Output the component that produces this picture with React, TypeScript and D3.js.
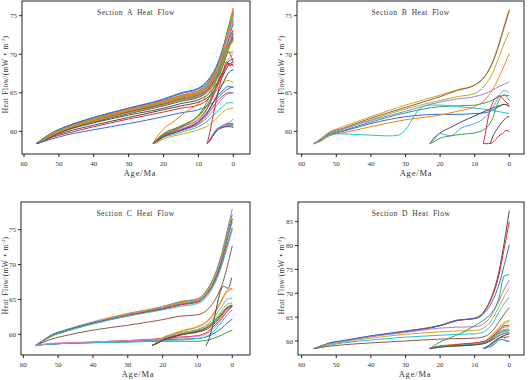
import React from "react";
import * as d3 from "d3";

// ---------- shared age grids (Ma) ----------
const ageLong = [56.5, 55, 52, 48, 40, 30, 20, 15, 10, 7, 5, 3, 1.5, 0];
const ageMid = [23, 22, 20, 17, 14, 10, 7, 5, 3, 1.5, 0];
const ageShort = [7.5, 7, 6, 5, 4, 3, 2, 1, 0];
const xTickValues = [60, 50, 40, 30, 20, 10, 0];
const yTicksABC = [60, 65, 70, 75];
const yTicksD = [60, 65, 70, 75, 80, 85];
const titles = ["Section A Heat Flow", "Section B Heat Flow", "Section C Heat Flow", "Section D Heat Flow"];

// ---------- colours ----------
const BLUE = "#2a6fdb", ORANGE = "#fb7d14", GREEN = "#35a838", RED = "#e6262a", PURPLE = "#a97ae0",
  BROWN = "#8c5a45", PINK = "#e47cc6", GRAY = "#4a4a4a", OLIVE = "#a9b323", CYAN = "#1fc3d3",
  GOLD = "#d9a21c", TEAL = "#2fa06c", LBLUE = "#5aa3e3";

// ---------- Section A ----------
const aLong = [
  [58.4, 58.9, 59.8, 60.6, 61.8, 63.0, 64.1, 64.9, 65.5, 66.6, 68.1, 70.4, 72.8, 75.1],
  [58.4, 58.8, 59.7, 60.5, 61.7, 62.9, 64.0, 64.7, 65.3, 66.5, 68.0, 70.5, 73.1, 75.6],
  [58.4, 58.8, 59.7, 60.5, 61.6, 62.8, 63.9, 64.6, 65.2, 66.4, 68.0, 70.6, 73.4, 76.0],
  [58.4, 58.8, 59.6, 60.4, 61.5, 62.7, 63.8, 64.5, 65.0, 66.0, 67.4, 69.5, 71.6, 73.2],
  [58.4, 58.8, 59.6, 60.4, 61.5, 62.6, 63.7, 64.4, 64.9, 65.9, 67.3, 69.6, 72.0, 74.3],
  [58.4, 58.7, 59.6, 60.3, 61.4, 62.6, 63.6, 64.3, 64.8, 65.8, 67.2, 69.4, 71.8, 74.0],
  [58.4, 58.7, 59.6, 60.3, 61.4, 62.5, 63.6, 64.2, 64.8, 65.8, 67.2, 69.5, 72.0, 74.5],
  [58.4, 58.7, 59.5, 60.2, 61.2, 62.3, 63.3, 63.9, 64.4, 65.3, 66.6, 68.5, 70.5, 72.3],
  [58.4, 58.8, 59.6, 60.4, 61.5, 62.7, 63.8, 64.5, 65.1, 66.2, 67.8, 70.2, 72.8, 75.3],
  [58.4, 58.8, 59.6, 60.4, 61.5, 62.6, 63.7, 64.4, 65.0, 66.1, 67.6, 70.0, 72.5, 74.8],
  [58.4, 58.9, 59.8, 60.6, 61.8, 63.0, 64.2, 65.0, 65.6, 66.8, 68.3, 70.8, 73.2, 75.4],
  [58.4, 58.8, 59.7, 60.4, 61.6, 62.8, 63.9, 64.6, 65.2, 66.3, 67.9, 70.3, 73.0, 75.8],
  [58.4, 58.7, 59.5, 60.3, 61.4, 62.5, 63.5, 64.2, 64.7, 65.6, 66.9, 68.9, 70.8, 71.9],
  [58.4, 58.7, 59.5, 60.3, 61.3, 62.5, 63.5, 64.1, 64.6, 65.6, 66.9, 68.8, 70.3, 69.0],
  [58.4, 58.7, 59.5, 60.3, 61.3, 62.4, 63.4, 64.1, 64.6, 65.5, 66.8, 68.8, 71.0, 73.0],
  [58.4, 58.7, 59.5, 60.2, 61.3, 62.4, 63.4, 64.0, 64.5, 65.5, 66.8, 68.7, 70.8, 72.7],
  [58.4, 58.7, 59.4, 60.1, 61.1, 62.1, 63.0, 63.6, 64.1, 64.9, 66.0, 67.6, 69.0, 69.4],
  [58.4, 58.8, 59.6, 60.4, 61.5, 62.7, 63.8, 64.4, 65.0, 66.1, 67.8, 70.2, 73.0, 75.2],
  [58.4, 58.7, 59.5, 60.3, 61.3, 62.4, 63.4, 64.0, 64.5, 65.4, 66.7, 68.7, 70.7, 71.8],
  [58.4, 58.6, 59.3, 59.9, 60.8, 61.8, 62.8, 63.3, 63.8, 64.5, 65.6, 67.2, 68.5, 69.0],
  [58.4, 58.6, 59.2, 59.7, 60.6, 61.6, 62.5, 63.0, 63.4, 64.3, 65.6, 67.4, 68.8, 68.6],
  [58.4, 58.6, 59.0, 59.5, 60.2, 61.0, 61.9, 62.4, 62.8, 63.4, 64.1, 65.0, 65.5, 65.8],
];
const aLongColors = [BLUE, ORANGE, GREEN, RED, PURPLE, BROWN, PINK, GRAY, OLIVE, CYAN, BLUE, ORANGE,
  GREEN, RED, PURPLE, BROWN, GRAY, ORANGE, OLIVE, GRAY, RED, BLUE];
const aMid = [
  [58.4, 59.2, 60.3, 61.3, 62.4, 63.6, 65.0, 66.8, 69.0, 70.8, 71.6],
  [58.4, 58.9, 59.6, 60.2, 60.8, 61.9, 63.6, 65.2, 66.2, 66.6, 66.3],
  [58.4, 58.9, 59.7, 60.3, 60.9, 62.0, 63.8, 65.8, 68.5, 70.2, 70.3],
  [58.4, 58.8, 59.4, 59.9, 60.4, 61.3, 62.8, 64.3, 65.3, 65.8, 65.7],
  [58.4, 58.8, 59.4, 59.9, 60.3, 61.0, 62.4, 63.7, 64.6, 65.0, 65.0],
  [58.4, 58.6, 59.2, 59.6, 60.0, 60.6, 61.5, 62.4, 63.2, 63.7, 63.7],
  [58.4, 58.5, 59.0, 59.4, 59.7, 60.2, 60.8, 61.6, 62.5, 62.9, 63.0],
  [58.4, 58.8, 59.5, 60.0, 60.5, 61.4, 63.3, 65.3, 67.5, 69.3, 70.0],
  [58.4, 58.7, 59.3, 59.8, 60.2, 60.9, 62.0, 63.2, 64.3, 64.9, 65.0],
  [58.4, 58.7, 59.3, 59.8, 60.3, 61.2, 62.7, 64.4, 66.2, 67.5, 68.0],
  [58.4, 58.8, 59.5, 60.1, 60.7, 61.6, 63.4, 65.6, 67.8, 68.8, 68.5],
  [58.4, 58.9, 59.7, 60.3, 60.9, 62.1, 64.3, 66.5, 69.5, 71.2, 72.0],
];
const aMidColors = [ORANGE, OLIVE, GREEN, BLUE, BROWN, CYAN, GOLD, PINK, PURPLE, GRAY, RED, GREEN];
const aShort = [
  [58.4, 59.3, 61.5, 63.8, 65.8, 67.5, 69.0, 68.5, 68.8],
  [58.4, 58.7, 59.5, 60.2, 60.5, 60.8, 61.0, 61.2, 61.6],
  [58.4, 58.7, 59.4, 60.1, 60.5, 60.7, 60.9, 61.0, 61.0],
  [58.4, 58.6, 59.3, 60.0, 60.4, 60.5, 60.6, 60.6, 60.5],
  [58.4, 58.6, 59.3, 59.9, 60.3, 60.5, 60.7, 60.8, 60.7],
  [58.4, 58.7, 59.5, 60.1, 60.4, 60.7, 60.8, 60.9, 60.9],
];
const aShortColors = [RED, PURPLE, BLUE, GRAY, RED, LBLUE];

// ---------- Section B ----------
const bLong = [
  [58.4, 58.9, 59.9, 60.6, 61.9, 63.4, 64.7, 65.4, 66.0, 67.1, 68.7, 71.2, 73.4, 75.6],
  [58.4, 58.8, 59.8, 60.4, 61.7, 63.1, 64.5, 65.3, 66.0, 67.2, 68.8, 71.3, 73.6, 75.8],
  [58.4, 58.8, 59.7, 60.3, 61.5, 62.9, 64.0, 64.5, 64.9, 66.0, 67.4, 69.6, 71.4, 72.9],
  [58.4, 58.8, 59.7, 60.3, 61.4, 62.6, 63.8, 64.2, 64.5, 64.9, 65.3, 65.8, 66.1, 66.4],
  [58.4, 58.7, 59.6, 60.1, 61.2, 62.4, 63.2, 63.3, 63.4, 63.7, 64.0, 64.5, 64.7, 64.6],
  [58.4, 58.7, 59.5, 60.0, 61.0, 61.9, 62.2, 62.2, 62.3, 62.4, 62.7, 63.2, 63.5, 63.3],
  [58.4, 58.6, 59.4, 59.8, 60.6, 61.5, 62.1, 62.6, 63.2, 64.1, 65.3, 67.0, 68.5, 70.1],
];
const bLongColors = [GOLD, BROWN, OLIVE, PURPLE, TEAL, BLUE, ORANGE];
const bCyanAges = [56.5, 55, 52, 50, 45, 40, 35, 32, 30, 28, 26, 23, 20, 15, 10, 5, 0];
const bCyanValues = [58.4, 58.8, 59.5, 59.7, 59.6, 59.5, 59.4, 59.5, 60.2, 61.6, 62.9, 63.4, 63.4, 63.2, 63.0, 62.7, 62.3];
const bMid = [
  [58.4, 59.0, 59.8, 60.5, 61.2, 62.0, 62.6, 63.0, 63.3, 63.5, 63.2],
  [58.4, 58.8, 59.7, 59.4, 60.4, 61.0, 61.8, 62.9, 64.5, 65.3, 65.0],
  [58.4, 58.6, 59.1, 59.4, 59.6, 59.8, 60.3, 61.5, 64.0, 64.7, 64.0],
];
const bMidColors = [GRAY, LBLUE, GREEN];
const bShort = [
  [58.4, 59.5, 62.0, 63.5, 64.3, 64.6, 64.3, 63.8, 63.5],
  [58.4, 58.4, 58.4, 58.5, 58.9, 59.4, 59.7, 60.1, 60.0],
];
const bShortColors = [RED, RED];
const bGrayAges = [5.5, 4.5, 3.5, 2.5, 1.5, 0.5, 0];
const bGrayValues = [58.4, 59.6, 60.3, 61.0, 61.5, 61.9, 61.9];

// ---------- Section C ----------
const cLong = [
  [58.4, 58.9, 59.9, 60.6, 61.8, 63.0, 64.0, 64.7, 65.1, 66.6, 68.6, 71.7, 74.8, 78.0],
  [58.4, 58.9, 59.9, 60.6, 61.7, 62.9, 63.9, 64.6, 65.0, 66.5, 68.4, 71.4, 74.4, 77.2],
  [58.4, 58.9, 59.8, 60.5, 61.7, 62.9, 63.9, 64.5, 64.9, 66.3, 68.2, 71.1, 74.0, 76.5],
  [58.4, 58.9, 59.8, 60.5, 61.6, 62.8, 63.8, 64.4, 64.8, 66.2, 68.0, 70.9, 73.7, 76.1],
  [58.4, 58.8, 59.8, 60.5, 61.6, 62.7, 63.7, 64.3, 64.7, 66.0, 67.8, 70.6, 73.5, 76.6],
  [58.4, 58.8, 59.7, 60.4, 61.5, 62.7, 63.6, 64.2, 64.6, 65.9, 67.6, 70.2, 72.8, 75.3],
  [58.4, 58.8, 59.7, 60.4, 61.5, 62.6, 63.5, 64.0, 64.4, 65.6, 67.3, 69.9, 72.4, 75.0],
  [58.4, 58.7, 59.3, 59.8, 60.6, 61.3, 62.1, 62.6, 62.8, 63.6, 64.9, 67.0, 69.6, 72.7],
  [58.4, 58.5, 58.6, 58.7, 58.9, 59.1, 59.4, 59.6, 59.8, 60.4, 61.3, 62.4, 63.3, 64.1],
  [58.4, 58.5, 58.6, 58.7, 58.8, 58.9, 59.0, 59.0, 59.0, 59.2, 59.5, 59.9, 60.3, 60.6],
  [58.4, 58.5, 58.6, 58.7, 58.8, 59.0, 59.2, 59.3, 59.4, 59.7, 60.2, 60.9, 61.6, 62.2],
  [58.4, 58.5, 58.6, 58.7, 58.8, 58.9, 59.1, 59.2, 59.4, 59.8, 60.6, 61.8, 62.8, 63.5],
  [58.4, 58.5, 58.7, 58.8, 58.9, 59.1, 59.3, 59.5, 59.7, 60.2, 61.0, 62.2, 63.2, 63.9],
];
const cLongColors = [PURPLE, GREEN, GOLD, ORANGE, BLUE, RED, CYAN, BROWN, RED, GREEN, BLUE, CYAN, PINK];
const cMid = [
  [58.4, 58.8, 59.5, 60.1, 60.6, 61.1, 62.0, 63.3, 65.0, 66.3, 66.6],
  [58.4, 58.7, 59.4, 60.0, 60.5, 61.0, 61.9, 63.1, 64.8, 66.1, 66.4],
  [58.4, 58.7, 59.4, 59.9, 60.3, 60.7, 61.5, 62.6, 64.0, 65.0, 65.2],
  [58.4, 58.7, 59.3, 59.8, 60.2, 60.6, 61.3, 62.2, 63.4, 64.3, 64.5],
  [58.4, 58.6, 59.2, 59.7, 60.1, 60.5, 61.1, 62.0, 63.1, 63.9, 64.2],
  [58.4, 58.6, 59.2, 59.7, 60.0, 60.3, 60.8, 61.6, 62.7, 63.6, 64.0],
  [58.4, 58.6, 59.1, 59.6, 60.0, 60.4, 61.0, 61.8, 62.9, 63.8, 64.1],
];
const cMidColors = [ORANGE, GOLD, LBLUE, OLIVE, GREEN, RED, GRAY];
const cBlackAges = [7.6, 6.5, 5.5, 4.5, 3.5, 2.6, 1.2, 0.2];
const cBlackValues = [58.3, 59.6, 61.6, 63.9, 66.0, 66.9, 66.6, 68.1];

// ---------- Section D ----------
const dLong = [
  [58.4, 58.8, 59.5, 60.0, 61.0, 62.0, 63.2, 64.3, 64.8, 66.5, 69.5, 74.5, 80.5, 87.3],
  [58.4, 58.8, 59.5, 60.0, 61.0, 62.0, 63.2, 64.3, 64.7, 66.4, 69.2, 73.8, 79.3, 85.0],
  [58.4, 58.8, 59.6, 60.1, 61.1, 62.1, 63.3, 64.4, 64.7, 66.0, 68.2, 71.8, 75.8, 80.2],
  [58.4, 58.7, 59.4, 59.9, 60.9, 61.8, 62.7, 62.9, 63.0, 63.8, 65.6, 68.4, 70.8, 72.8],
  [58.4, 58.7, 59.3, 59.8, 60.6, 61.4, 61.9, 62.1, 62.2, 62.9, 64.5, 67.2, 69.3, 71.0],
  [58.4, 58.6, 59.1, 59.6, 60.2, 60.8, 61.2, 61.4, 61.5, 62.1, 63.5, 66.0, 67.8, 69.2],
  [58.4, 58.6, 58.9, 59.2, 59.6, 60.0, 60.4, 60.5, 60.6, 61.0, 62.0, 64.0, 65.6, 67.0],
];
const dLongColors = [GRAY, RED, BLUE, PURPLE, GOLD, CYAN, BROWN];
const dMid = [
  [58.4, 58.9, 59.8, 60.7, 61.6, 63.2, 64.6, 66.0, 69.0, 73.6, 73.9],
  [58.4, 58.7, 59.0, 59.2, 59.4, 59.6, 60.0, 60.8, 62.0, 62.9, 63.0],
  [58.4, 58.6, 58.9, 59.1, 59.2, 59.5, 60.0, 61.3, 62.8, 63.9, 64.3],
  [58.4, 58.6, 58.9, 59.1, 59.3, 59.5, 60.0, 61.0, 62.5, 63.6, 64.0],
  [58.4, 58.6, 58.9, 59.1, 59.3, 59.6, 60.0, 60.9, 62.2, 63.2, 63.3],
  [58.4, 58.6, 58.8, 59.0, 59.1, 59.4, 59.8, 60.6, 61.8, 62.4, 62.5],
  [58.4, 58.6, 58.8, 59.0, 59.1, 59.3, 59.7, 60.5, 61.7, 62.2, 62.3],
  [58.4, 58.6, 58.8, 58.9, 59.0, 59.2, 59.6, 60.4, 61.5, 62.0, 62.1],
  [58.4, 58.5, 58.7, 58.9, 59.0, 59.2, 59.5, 60.2, 61.1, 61.6, 61.7],
];
const dMidColors = [TEAL, ORANGE, OLIVE, GOLD, RED, PURPLE, CYAN, GREEN, GRAY];
const dShort = [
  [58.4, 58.5, 58.7, 59.0, 59.5, 60.2, 60.3, 60.0, 59.9],
  [58.4, 58.6, 59.0, 59.6, 60.2, 60.6, 60.8, 60.8, 60.9],
  [58.4, 58.5, 58.8, 59.2, 59.8, 60.5, 61.0, 60.2, 60.0],
  [58.4, 58.6, 59.0, 59.5, 60.0, 60.6, 61.0, 61.3, 61.5],
];
const dShortColors = [BLUE, RED, LBLUE, GRAY];

type Series = { ages: number[]; values: number[]; color: string };
const group = (ages: number[], rows: number[][], colors: string[]): Series[] =>
  rows.map((values, i) => ({ ages, values, color: colors[i] }));

const seriesA: Series[] = [
  ...group(ageLong, aLong, aLongColors),
  ...group(ageMid, aMid, aMidColors),
  ...group(ageShort, aShort, aShortColors),
];
const seriesB: Series[] = [
  ...group(ageLong, bLong, bLongColors),
  { ages: bCyanAges, values: bCyanValues, color: CYAN },
  ...group(ageMid, bMid, bMidColors),
  ...group(ageShort, bShort, bShortColors),
  { ages: bGrayAges, values: bGrayValues, color: GRAY },
];
const seriesC: Series[] = [
  ...group(ageLong, cLong, cLongColors),
  ...group(ageMid, cMid, cMidColors),
  { ages: cBlackAges, values: cBlackValues, color: GRAY },
];
const seriesD: Series[] = [
  ...group(ageLong, dLong, dLongColors),
  ...group(ageMid, dMid, dMidColors),
  ...group(ageShort, dShort, dShortColors),
];

type Layout = {
  l: number; r: number; t: number; b: number;
  x60: number; x0: number;
  yLoV: number; yLoPx: number; yHiV: number; yHiPx: number;
  yLabelX: number; xLabelX: number;
};

const FONT = "'Liberation Serif', 'Times New Roman', serif";
const TXT = "#333";

function Panel({ layout, series, yTicks, title, id }: { layout: Layout; series: Series[]; yTicks: number[]; title: string; id: string }) {
  const { l, r, t, b } = layout;
  const x = d3.scaleLinear().domain([60, 0]).range([layout.x60, layout.x0]);
  const y = d3.scaleLinear().domain([layout.yLoV, layout.yHiV]).range([layout.yLoPx, layout.yHiPx]);
  const line = d3
    .line<[number, number]>()
    .x((d) => x(d[0]))
    .y((d) => y(d[1]))
    .curve(d3.curveMonotoneX);
  const cy = (t + b) / 2 - 3;
  return (
    <g>
      <defs>
        <clipPath id={id}>
          <rect x={l} y={t} width={r - l} height={b - t} />
        </clipPath>
      </defs>
      <g clipPath={`url(#${id})`} fill="none" strokeWidth={1} strokeLinejoin="round">
        {series.map((s, i) => (
          <path key={i} d={line(s.ages.map((a, j) => [a, s.values[j]] as [number, number])) || ""} stroke={s.color} />
        ))}
      </g>
      <rect x={l} y={t} width={r - l} height={b - t} fill="none" stroke="#222" strokeWidth={1} />
      {xTickValues.map((v) => (
        <g key={"x" + v}>
          <line x1={x(v)} x2={x(v)} y1={b} y2={b + 3} stroke="#222" />
          <text x={x(v)} y={b + 12} fontSize={7} textAnchor="middle" fill={TXT} fontFamily={FONT}>
            {v}
          </text>
        </g>
      ))}
      {yTicks.map((v) => (
        <g key={"y" + v}>
          <line x1={l - 3} x2={l} y1={y(v)} y2={y(v)} stroke="#222" />
          <text x={l - 5} y={y(v) + 2.5} fontSize={7} textAnchor="end" fill={TXT} fontFamily={FONT}>
            {v}
          </text>
        </g>
      ))}
      <text x={(l + r) / 2} y={t + 14} fontSize={7.5} textAnchor="middle" fill={TXT} fontFamily={FONT}
        letterSpacing={0.5} wordSpacing={2}>
        {title}
      </text>
      <text x={layout.xLabelX} y={b + 22} fontSize={8.5} textAnchor="middle" fill={TXT} fontFamily={FONT} letterSpacing={0.8}>
        Age/Ma
      </text>
      <text transform={`translate(${layout.yLabelX},${cy}) rotate(-90)`} fontSize={7.5} textAnchor="middle" fill={TXT}
        fontFamily={FONT} letterSpacing={0.35} wordSpacing={1}>
        Heat Flow/(mW • m<tspan dy={-3} fontSize={5}>-2</tspan><tspan dy={3}>)</tspan>
      </text>
    </g>
  );
}

const layoutA: Layout = { l: 22, r: 250, t: 1, b: 154, x60: 24, x0: 233.3, yLoV: 60, yLoPx: 131.3, yHiV: 75, yHiPx: 15.7, yLabelX: 8, xLabelX: 140 };
const layoutB: Layout = { l: 297, r: 524, t: 1, b: 154, x60: 301.7, x0: 509.3, yLoV: 60, yLoPx: 131.3, yHiV: 75, yHiPx: 15.7, yLabelX: 284, xLabelX: 416 };
const layoutC: Layout = { l: 21, r: 250, t: 202, b: 355, x60: 23.3, x0: 232.3, yLoV: 60, yLoPx: 334.3, yHiV: 75, yHiPx: 229.7, yLabelX: 7.5, xLabelX: 138 };
const layoutD: Layout = { l: 298, r: 524, t: 202, b: 355, x60: 301.7, x0: 509.3, yLoV: 60, yLoPx: 341, yHiV: 85, yHiPx: 221.7, yLabelX: 284, xLabelX: 415 };

export default function App() {
  return (
    <svg width={528} height={380} style={{ position: "absolute", left: 0, top: 0, background: "#fff" }}>
      <rect width={528} height={380} fill="#fff" />
      <Panel layout={layoutA} series={seriesA} yTicks={yTicksABC} title={titles[0]} id="clipA" />
      <Panel layout={layoutB} series={seriesB} yTicks={yTicksABC} title={titles[1]} id="clipB" />
      <Panel layout={layoutC} series={seriesC} yTicks={yTicksABC} title={titles[2]} id="clipC" />
      <Panel layout={layoutD} series={seriesD} yTicks={yTicksD} title={titles[3]} id="clipD" />
    </svg>
  );
}
